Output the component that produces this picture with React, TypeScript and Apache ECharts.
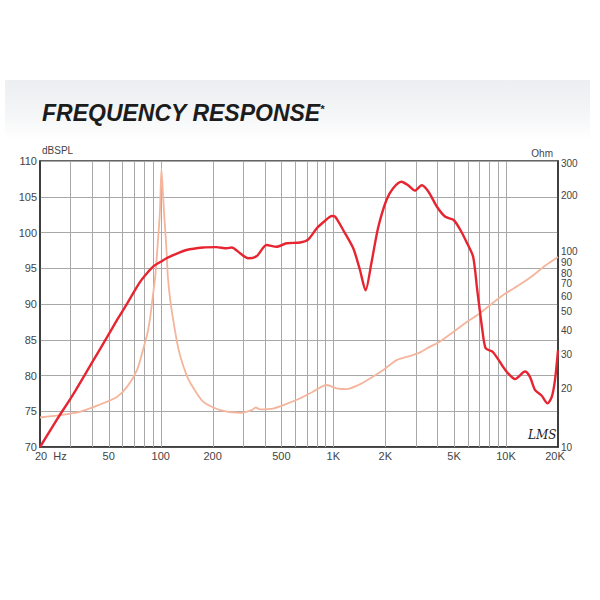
import React, { useEffect, useRef } from "react";
import * as echarts from "echarts";

// ---- Data ----
// SPL response (dBSPL, left axis)
const splFreq = [20, 25, 31, 40, 49, 56, 64, 70, 76, 84, 91, 100, 108, 120, 141, 176, 210, 241, 258, 288, 321, 360, 410, 470, 536, 643, 717, 802, 896, 980, 1025, 1140, 1304, 1426, 1537, 1660, 1814, 2030, 2220, 2480, 2710, 2970, 3250, 3556, 3980, 4450, 4976, 5440, 5950, 6450, 6814, 7290, 7620, 8340, 8930, 9880, 11280, 12880, 13760, 14700, 16060, 17380, 18400, 19220, 20000];
const splDb = [70, 73.8, 77.3, 81.8, 85.4, 87.8, 90.1, 91.7, 93.1, 94.4, 95.3, 95.9, 96.4, 96.9, 97.55, 97.9, 97.95, 97.8, 97.9, 97.1, 96.4, 96.7, 98.25, 98.0, 98.5, 98.6, 99.05, 100.6, 101.65, 102.3, 102.2, 100.35, 97.8, 94.75, 91.9, 95.7, 100.6, 104.55, 106.2, 107.1, 106.6, 105.85, 106.6, 105.7, 103.6, 102.2, 101.75, 100.35, 98.5, 96.6, 91.95, 86.4, 83.8, 83.35, 82.4, 80.8, 79.5, 80.55, 79.8, 78.0, 77.2, 76.1, 77.0, 79.4, 83.5];

// Impedance (Ohm, right log axis)
const impFreq = [20, 26, 34, 44, 56, 64, 73, 79, 84, 87, 90, 93, 96, 99, 101, 103, 105, 108, 110, 114, 119, 125, 130, 140, 149, 176, 221, 288, 337, 355, 376, 449, 536, 643, 762, 912, 1045, 1194, 1395, 1630, 1946, 2325, 2765, 3160, 3615, 4135, 4976, 5950, 7030, 8340, 9960, 11900, 14130, 16750, 20000];
const impOhm = [14.2, 14.6, 15.2, 16.5, 18.2, 20.5, 25.0, 31.7, 39, 47, 60, 76, 110, 165, 272, 205, 154, 105, 76, 56, 43.6, 34, 29.3, 24, 21.3, 17.15, 15.5, 15.0, 15.5, 16.0, 15.65, 15.8, 16.7, 17.85, 19.3, 20.9, 20.1, 19.9, 20.9, 22.6, 25.0, 28.1, 29.5, 30.7, 32.9, 35.0, 39.4, 44.3, 48.9, 55.3, 62.2, 68.6, 76.2, 86.0, 95.8];

// Axis tick labels
const xGridFreq = [30, 40, 50, 60, 70, 80, 90, 100, 200, 300, 400, 500, 600, 700, 800, 900, 1000, 2000, 3000, 4000, 5000, 6000, 7000, 8000, 9000, 10000];
const xLabelFreq = [20, 50, 100, 200, 500, 1000, 2000, 5000, 10000, 20000];
const xLabelText = ["20  Hz", "50", "100", "200", "500", "1K", "2K", "5K", "10K", "20K"];
const ohmTicks = [300, 200, 100, 90, 80, 70, 60, 50, 40, 30, 20, 10];

const FONT = '"Liberation Sans", Arial, sans-serif';

export default function App() {
  const ref = useRef<HTMLDivElement>(null);

  useEffect(() => {
    if (!ref.current) return;
    const chart = echarts.init(ref.current, undefined, { renderer: "svg" });

    const ohmNudge: Record<number, number> = { 300: 2, 100: -2, 80: 1 };

    const option: any = {
      animation: false,
      backgroundColor: "#ffffff",
      textStyle: { fontFamily: FONT },
      graphic: [
        {
          type: "rect",
          left: 5,
          top: 80,
          shape: { width: 585, height: 60 },
          style: {
            fill: new echarts.graphic.LinearGradient(0, 0, 0, 1, [
              { offset: 0, color: "#eceef1" },
              { offset: 0.6, color: "#f5f6f7" },
              { offset: 1, color: "#ffffff" },
            ]),
          },
          z: -10,
        },
        {
          type: "text",
          x: 42,
          y: 124.5,
          style: {
            text: "FREQUENCY RESPONSE",
            font: 'italic bold 23px "Liberation Sans", Arial, sans-serif',
            fill: "#1c1c1c",
            verticalAlign: "bottom",
          },
        },
        {
          type: "text",
          x: 320,
          y: 103,
          style: {
            text: "*",
            font: 'italic bold 11px "Liberation Sans", Arial, sans-serif',
            fill: "#1c1c1c",
          },
        },
        {
          type: "text",
          x: 528,
          y: 429,
          style: {
            text: "LMS",
            font: 'italic 12px "DejaVu Serif", serif',
            fill: "#222",
          },
          z: 20,
        },
      ],
      grid: {
        left: 40,
        top: 161,
        width: 518,
        height: 286,
        show: true,
        borderColor: "#333",
        borderWidth: 1.5,
        backgroundColor: "transparent",
      },
      xAxis: {
        type: "log",
        logBase: 10,
        min: 20,
        max: 20000,
        axisLine: { show: true, lineStyle: { color: "#333", width: 1.5 } },
        axisTick: { show: false },
        axisLabel: { show: false },
        splitLine: { show: false },
        minorSplitLine: { show: false },
      },
      yAxis: [
        {
          type: "value",
          min: 70,
          max: 110,
          interval: 5,
          position: "left",
          name: "dBSPL",
          nameLocation: "end",
          nameGap: 3,
          nameTextStyle: { align: "left", fontSize: 10, color: "#444", padding: [0, 0, 0, 2] },
          axisLine: { show: true, lineStyle: { color: "#333", width: 1.5 } },
          axisTick: { show: false },
          axisLabel: { fontSize: 11, color: "#444", margin: 3 },
          splitLine: { show: true, lineStyle: { color: "#a8a8a8", width: 1 } },
        },
        {
          type: "log",
          logBase: 10,
          min: 10,
          max: 300,
          position: "right",
          name: "Ohm",
          nameLocation: "end",
          nameGap: 3,
          nameTextStyle: { align: "right", fontSize: 10, color: "#444", padding: [0, 5, 0, 0] },
          axisLine: { show: true, lineStyle: { color: "#333", width: 1.5 } },
          axisTick: { show: false },
          axisLabel: { show: false },
          splitLine: { show: false },
        },
      ],
      series: [
        {
          name: "xgrid",
          type: "custom",
          xAxisIndex: 0,
          yAxisIndex: 0,
          silent: true,
          clip: false,
          z: 1,
          data: xGridFreq.map((f) => [f, 70]),
          renderItem: (params: any, api: any) => {
            const f = api.value(0);
            const p0 = api.coord([f, 70]);
            const p1 = api.coord([f, 110]);
            return {
              type: "line",
              shape: { x1: Math.round(p0[0]) + 0.5, y1: p0[1], x2: Math.round(p1[0]) + 0.5, y2: p1[1] },
              style: { stroke: "#a8a8a8", lineWidth: 1 },
            };
          },
        },
        {
          name: "xlabels",
          type: "custom",
          xAxisIndex: 0,
          yAxisIndex: 0,
          silent: true,
          clip: false,
          z: 5,
          data: xLabelFreq.map((f) => [f, 70]),
          renderItem: (params: any, api: any) => {
            const i = params.dataIndex;
            const p = api.coord([api.value(0), 70]);
            const first = i === 0;
            return {
              type: "text",
              x: first ? p[0] - 5 : p[0] - (i === xLabelFreq.length - 1 ? 3 : 0),
              y: p[1] + 9,
              style: {
                text: xLabelText[i],
                font: '11px "Liberation Sans", Arial, sans-serif',
                fill: "#444",
                align: first ? "left" : "center",
                verticalAlign: "middle",
              },
            };
          },
        },
        {
          name: "ohmLabels",
          type: "custom",
          xAxisIndex: 0,
          yAxisIndex: 1,
          silent: true,
          clip: false,
          z: 5,
          data: ohmTicks.map((o) => [20000, o]),
          renderItem: (params: any, api: any) => {
            const i = params.dataIndex;
            const v = ohmTicks[i];
            const p = api.coord([20000, v]);
            return {
              type: "text",
              x: p[0] + 3,
              y: p[1] + (ohmNudge[v] || 0),
              style: {
                text: String(v),
                font: '10px "Liberation Sans", Arial, sans-serif',
                fill: "#444",
                align: "left",
                verticalAlign: "middle",
              },
            };
          },
        },
        {
          name: "Impedance",
          type: "line",
          xAxisIndex: 0,
          yAxisIndex: 1,
          data: impFreq.map((f, i) => [f, impOhm[i]]),
          showSymbol: false,
          smooth: 0.25,
          lineStyle: { color: "#f4b59c", width: 1.8 },
          z: 3,
        },
        {
          name: "SPL",
          type: "line",
          xAxisIndex: 0,
          yAxisIndex: 0,
          data: splFreq.map((f, i) => [f, splDb[i]]),
          showSymbol: false,
          smooth: 0.25,
          lineStyle: { color: "#e62531", width: 2.4 },
          z: 4,
        },
      ],
    };

    chart.setOption(option);
    return () => chart.dispose();
  }, []);

  return (
    <div
      ref={ref}
      style={{ position: "fixed", left: 0, top: 0, width: 600, height: 600 }}
    />
  );
}
